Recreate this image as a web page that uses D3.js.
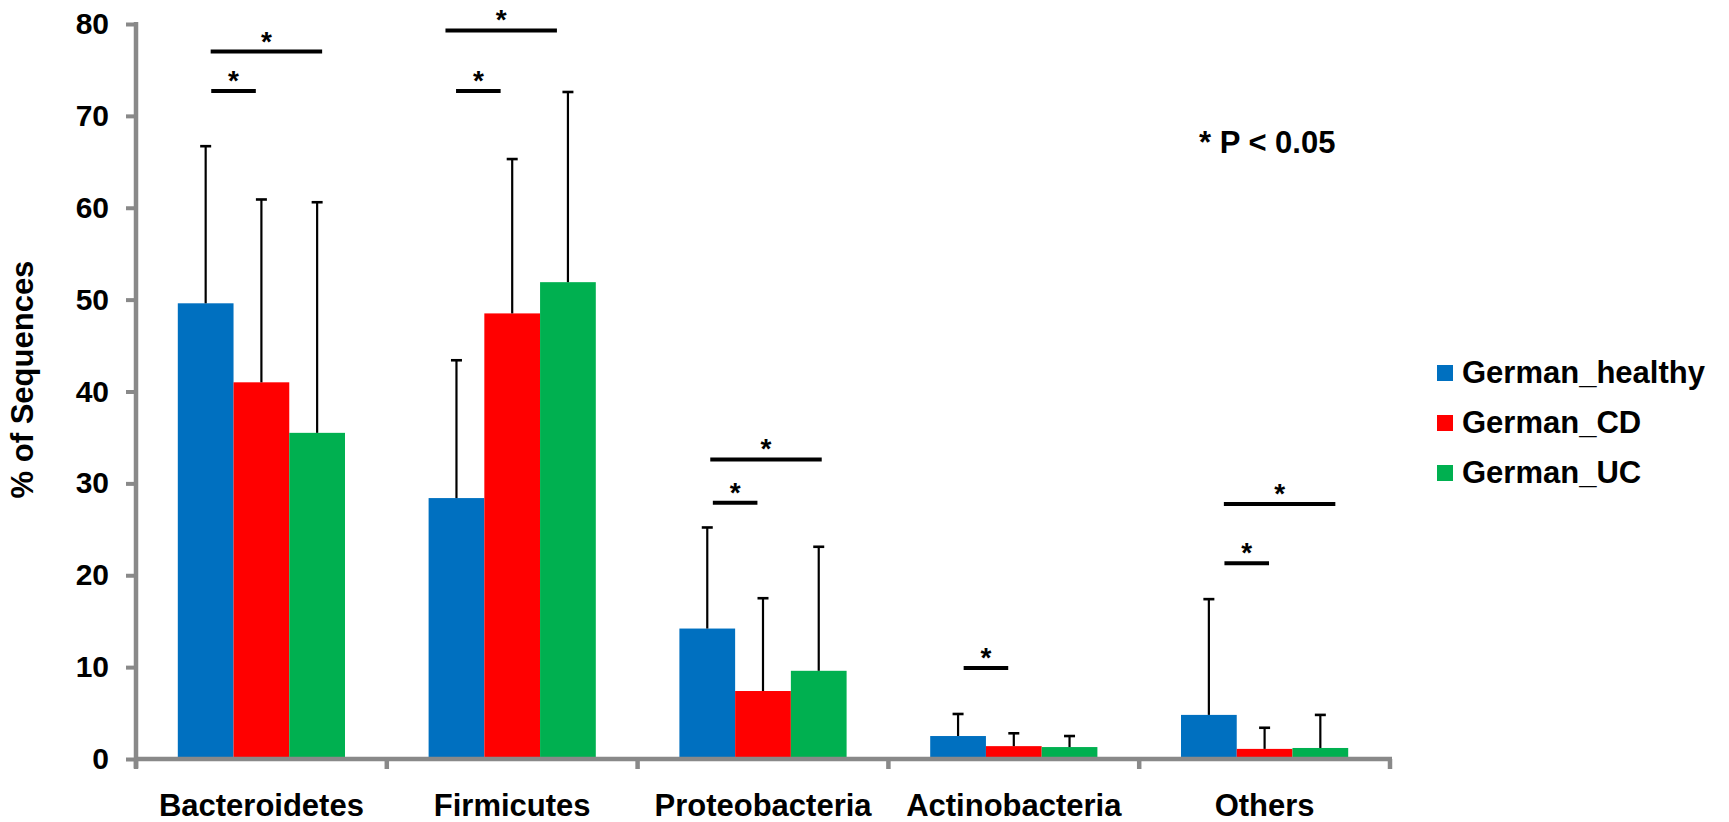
<!DOCTYPE html>
<html>
<head>
<meta charset="utf-8">
<script src="https://cdnjs.cloudflare.com/ajax/libs/d3/7.8.5/d3.min.js"></script>
<style>
  html, body { margin: 0; padding: 0; background: #fff; }
  svg { display: block; }
  text { font-family: "Liberation Sans", Arial, Helvetica, sans-serif; font-weight: bold; fill: #000; }
</style>
</head>
<body>
<svg id="chart" width="1729" height="822"></svg>
<script>
// ---- data ----
const categories = ["Bacteroidetes", "Firmicutes", "Proteobacteria", "Actinobacteria", "Others"];
const seriesNames = ["German_healthy", "German_CD", "German_UC"];
const seriesColors = ["#0070C0", "#FF0000", "#00B050"];
const healthyMean = [49.6, 28.4, 14.2, 2.5, 4.8];
const cdMean      = [41.0, 48.5, 7.4, 1.4, 1.1];
const ucMean      = [35.5, 51.9, 9.6, 1.3, 1.2];
const healthySD   = [17.1, 15.0, 11.0, 2.4, 12.6];
const cdSD        = [19.9, 16.8, 10.1, 1.4, 2.3];
const ucSD        = [25.1, 20.7, 13.5, 1.2, 3.6];
const yTicks = [0, 10, 20, 30, 40, 50, 60, 70, 80];
// significance brackets: category, from series, to series, height (% of sequences)
const sigCategory = ["Bacteroidetes", "Bacteroidetes", "Firmicutes", "Firmicutes", "Proteobacteria", "Proteobacteria", "Actinobacteria", "Others", "Others"];
const sigFrom     = [0, 0, 0, 0, 0, 0, 0, 0, 0];
const sigTo       = [2, 1, 2, 1, 2, 1, 1, 2, 1];
const sigHeight   = [77.0, 72.7, 79.3, 72.7, 32.6, 27.9, 9.9, 27.75, 21.3];
const pNote = "* P < 0.05";
const yTitle = "% of Sequences";

// ---- build ----
const means = [healthyMean, cdMean, ucMean];
const sds = [healthySD, cdSD, ucSD];
const svg = d3.select("#chart");

const x0 = d3.scaleBand().domain(categories).range([136, 1390]).paddingInner(0).paddingOuter(0);
const bw = x0.bandwidth();
const x1 = d3.scaleBand().domain(d3.range(seriesNames.length)).range([bw / 6, bw * 5 / 6]);
const y = d3.scaleLinear().domain([0, 80]).range([759, 24]);
const axisColor = "#898989";

// bars
const groups = svg.append("g").selectAll("g")
  .data(categories)
  .join("g")
  .attr("transform", d => `translate(${x0(d)},0)`);

const barData = (c, ci) => seriesNames.map((s, si) => ({ si, v: means[si][ci], sd: sds[si][ci] }));

groups.each(function (c, ci) {
  const g = d3.select(this);
  const bd = barData(c, ci);
  g.selectAll("rect").data(bd).join("rect")
    .attr("x", d => x1(d.si))
    .attr("y", d => y(d.v))
    .attr("width", x1.bandwidth())
    .attr("height", d => y(0) - y(d.v))
    .attr("fill", d => seriesColors[d.si]);
  // error bars
  const cx = d => x1(d.si) + x1.bandwidth() / 2;
  g.selectAll("line.err").data(bd).join("line")
    .attr("class", "err")
    .attr("x1", cx).attr("x2", cx)
    .attr("y1", d => y(d.v)).attr("y2", d => y(d.v + d.sd))
    .attr("stroke", "#000").attr("stroke-width", 2.2);
  g.selectAll("line.cap").data(bd).join("line")
    .attr("class", "cap")
    .attr("x1", d => cx(d) - 5.5).attr("x2", d => cx(d) + 5.5)
    .attr("y1", d => y(d.v + d.sd)).attr("y2", d => y(d.v + d.sd))
    .attr("stroke", "#000").attr("stroke-width", 2.6);
});

// y axis
const yAxis = d3.axisLeft(y).tickValues(yTicks).tickSize(10).tickSizeOuter(0).tickPadding(17);
const gy = svg.append("g").attr("transform", "translate(136,0)").call(yAxis);
gy.select(".domain").remove();
gy.selectAll(".tick line").attr("stroke", axisColor).attr("stroke-width", 4);
gy.selectAll(".tick text").attr("font-size", 30).attr("fill", "#000")
  .style("font-family", '"Liberation Sans", Arial, sans-serif').style("font-weight", "bold");
gy.append("line").attr("x1", 0).attr("x2", 0).attr("y1", y(80) - 2).attr("y2", y(0) + 9)
  .attr("stroke", axisColor).attr("stroke-width", 4.5);

// x axis
const xAxis = d3.axisBottom(x0).tickSize(0).tickPadding(35);
const gx = svg.append("g").attr("transform", `translate(0,${y(0)})`).call(xAxis);
gx.select(".domain").remove();
gx.selectAll(".tick text").attr("font-size", 31).attr("fill", "#000")
  .style("font-family", '"Liberation Sans", Arial, sans-serif').style("font-weight", "bold");
gx.append("line").attr("x1", 136).attr("x2", 1392).attr("y1", 0).attr("y2", 0)
  .attr("stroke", axisColor).attr("stroke-width", 4.5);
gx.selectAll("line.bnd").data(d3.range(categories.length + 1)).join("line")
  .attr("class", "bnd")
  .attr("x1", i => 136 + i * bw).attr("x2", i => 136 + i * bw)
  .attr("y1", 0).attr("y2", 10)
  .attr("stroke", axisColor).attr("stroke-width", 4.5);

// significance brackets (layout nudges in px, per bracket)
const bracketNudge = [2, 0, -14, -6, 0, 0, 0, 12, 10];
const sig = sigCategory.map((c, i) => ({ c, a: sigFrom[i], b: sigTo[i], h: sigHeight[i], n: bracketNudge[i] }));
const centerOf = (c, s) => x0(c) + x1(s) + x1.bandwidth() / 2;
const sx1 = d => (d.b - d.a > 1 ? centerOf(d.c, d.a) + 3 : centerOf(d.c, d.a) + x1.bandwidth() * 0.1) + d.n;
const sx2 = d => (d.b - d.a > 1 ? centerOf(d.c, d.b) + 3 : centerOf(d.c, d.b) - x1.bandwidth() * 0.1) + d.n;
const gs = svg.append("g");
gs.selectAll("line").data(sig).join("line")
  .attr("x1", sx1).attr("x2", sx2)
  .attr("y1", d => y(d.h)).attr("y2", d => y(d.h))
  .attr("stroke", "#000").attr("stroke-width", 4);
gs.selectAll("text").data(sig).join("text")
  .attr("x", d => (sx1(d) + sx2(d)) / 2)
  .attr("y", d => y(d.h) - 1)
  .attr("text-anchor", "middle")
  .attr("font-size", 28)
  .text("*");

// p-value note
svg.append("text").attr("x", 1199).attr("y", 153).attr("font-size", 31).text(pNote);

// y title
svg.append("text")
  .attr("transform", `translate(33,${(y(0) + y(80)) / 2 - 12}) rotate(-90)`)
  .attr("text-anchor", "middle")
  .attr("font-size", 31)
  .text(yTitle);

// legend
const lg = svg.append("g").attr("transform", "translate(1437,365)");
const li = lg.selectAll("g").data(seriesNames).join("g")
  .attr("transform", (d, i) => `translate(0,${i * 50})`);
li.append("rect").attr("width", 16).attr("height", 16).attr("fill", (d, i) => seriesColors[i]);
li.append("text").attr("x", 25).attr("y", 18).attr("font-size", 31).text(d => d);
</script>
</body>
</html>
